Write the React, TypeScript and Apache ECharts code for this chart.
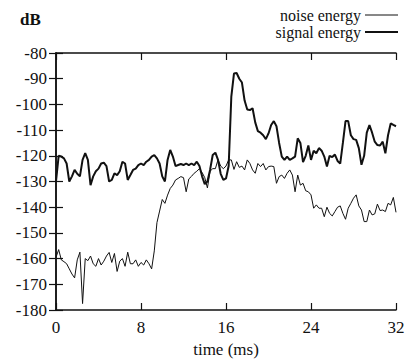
import React, { useEffect, useRef } from "react";
import * as echarts from "echarts";

// sampling step of the traces (ms)
const sampleStepMs = 0.25;

// signal energy (dB), thick trace, one value every 0.25 ms from 0 to 32 ms
const signalEnergy = [
  -130, -120, -120.3, -121, -123, -130, -128, -125.5,
  -127, -128, -121.6, -119, -121.6, -131.4, -128, -126,
  -125, -123, -122.7, -124, -130, -129.4, -126.8, -127.5,
  -126, -122.3, -123, -129.4, -127.5, -125.5, -125, -123.6,
  -123, -123.6, -122.3, -121.6, -120.3, -119.7, -121, -123,
  -128, -130, -121.6, -117.7, -120.3, -124, -123.6, -123.2,
  -123.6, -123, -123.6, -123, -123.6, -122.3, -124, -128,
  -131, -130, -125.5, -119.7, -118.8, -121.6, -127, -129.4,
  -128.8, -124, -97, -88, -87.8, -90, -91.5, -98.5,
  -102, -102.2, -101.5, -107, -110.4, -111, -112, -113.5,
  -111.3, -108, -106.5, -108.5, -115, -120.3, -121.6, -120.3,
  -121.6, -121, -120.3, -113.2, -115, -122.5, -120, -116,
  -121.6, -118, -119, -117, -118, -120.3, -124.2, -120,
  -120.5, -119.5, -122, -123, -115, -106.5, -106.5, -112,
  -113.5, -113.8, -117, -123.5, -120, -111, -108, -111,
  -114.5, -115.8, -116, -114.5, -119, -112, -107.4, -108,
  -108.5,
];

// noise energy (dB), thin trace, same sampling
const noiseEnergy = [
  -159.5, -156.5, -160.5, -161.2, -162, -164, -166, -167.5,
  -160.5, -157.5, -177.5, -160, -160.8, -159, -162, -163,
  -160, -162.5, -161, -159, -157.6, -161.5, -158, -165,
  -161, -160, -163, -157.5, -162, -162, -160.5, -163,
  -161.5, -162.5, -160.5, -162, -164, -157, -146, -141.5,
  -137, -138.5, -135.3, -132.7, -131.4, -129.4, -128.8, -128.1,
  -128.5, -134, -129, -128, -126.8, -126, -125, -126.5,
  -128.5, -132.5, -126, -125, -125, -121.5, -124, -125,
  -124, -121.6, -121.6, -125.3, -122.3, -124.5, -124, -125.5,
  -121.6, -123, -125.5, -126.8, -123, -124.2, -123, -125.5,
  -124.2, -124, -124.2, -130.7, -128.1, -127.5, -128.8, -126.8,
  -125.5, -127.5, -134, -127.5, -131.4, -130.7, -133.6, -134,
  -135.2, -140.4, -139.1, -140.4, -140.4, -143.7, -140, -142.4,
  -143.4, -141.7, -140, -139.5, -142.4, -144.7, -140.4, -138.5,
  -136.5, -135.2, -139.5, -141.1, -145.6, -145.6, -141.1, -143,
  -142.6, -138.8, -141.3, -141.1, -141.7, -138.5, -139.1, -136.2,
  -142,
];

const xTicks = { min: 0, max: 32, interval: 8 };
const yTicks = { min: -180, max: -80, interval: 10 };

const FONT = "Liberation Serif";
const INK = "#111";

export default function App() {
  const ref = useRef<HTMLDivElement>(null);

  useEffect(() => {
    document.body.style.margin = "0";
    const chart = echarts.init(ref.current!, undefined, { renderer: "svg" });
    const toPairs = (vals: number[]) => vals.map((v, i) => [i * sampleStepMs, v]);

    const axisLine = { show: true, lineStyle: { color: INK, width: 1.5 } };
    const axisTick = { show: true, inside: true, length: 7, lineStyle: { color: INK, width: 1.2 } };
    const label = { fontSize: 17, fontFamily: FONT, color: INK };

    chart.setOption({
      animation: false,
      textStyle: { fontFamily: FONT },
      grid: { left: 56, right: 19, top: 53, bottom: 53 },
      xAxis: [
        {
          type: "value", ...xTicks, position: "bottom",
          axisLine, axisTick, splitLine: { show: false },
          axisLabel: { ...label, margin: 9 },
          name: "time (ms)", nameLocation: "middle", nameGap: 26,
          nameTextStyle: { ...label },
        },
        {
          type: "value", ...xTicks, position: "top",
          axisLine, axisTick, splitLine: { show: false },
          axisLabel: { show: false },
        },
      ],
      yAxis: [
        {
          type: "value", ...yTicks, position: "left",
          axisLine, axisTick, splitLine: { show: false },
          axisLabel: { ...label, margin: 9 },
        },
        {
          type: "value", ...yTicks, position: "right",
          axisLine, axisTick, splitLine: { show: false },
          axisLabel: { show: false },
        },
      ],
      series: [
        {
          name: "noise energy", type: "line", xAxisIndex: 0, yAxisIndex: 0,
          data: toPairs(noiseEnergy), showSymbol: false, symbol: "none",
          lineStyle: { color: INK, width: 1 },
        },
        {
          name: "signal energy", type: "line", xAxisIndex: 0, yAxisIndex: 0,
          data: toPairs(signalEnergy), showSymbol: false, symbol: "none",
          lineStyle: { color: INK, width: 2 },
        },
      ],
      graphic: [
        { type: "text", x: 20, y: 19, style: { text: "dB", fontSize: 17, fontWeight: "bold", fontFamily: FONT, fill: INK, verticalAlign: "middle" } },
        { type: "text", x: 361, y: 15, style: { text: "noise energy", fontSize: 16, fontFamily: FONT, fill: INK, align: "right", verticalAlign: "middle" } },
        { type: "line", shape: { x1: 365, y1: 15, x2: 398, y2: 15 }, style: { stroke: INK, lineWidth: 1 } },
        { type: "text", x: 361, y: 32, style: { text: "signal energy", fontSize: 16, fontFamily: FONT, fill: INK, align: "right", verticalAlign: "middle" } },
        { type: "line", shape: { x1: 365, y1: 32, x2: 398, y2: 32 }, style: { stroke: INK, lineWidth: 2 } },
      ],
    });
    return () => chart.dispose();
  }, []);

  return <div ref={ref} style={{ width: 415, height: 363 }} />;
}
